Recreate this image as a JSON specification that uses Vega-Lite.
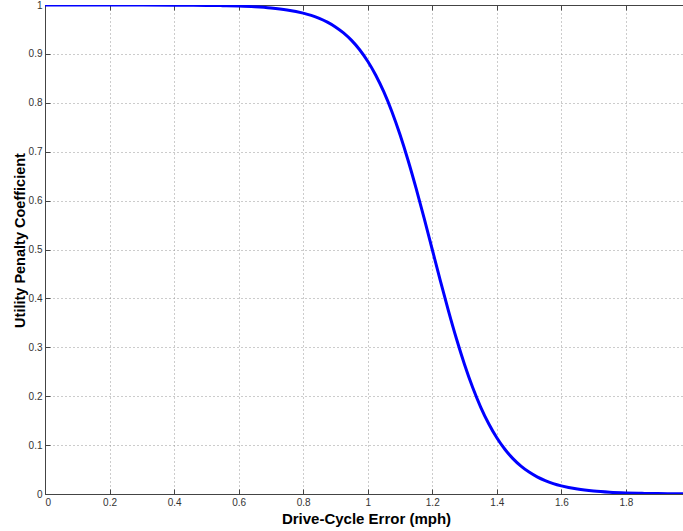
{
  "$schema": "https://vega.github.io/schema/vega-lite/v6.json",
  "autosize": {"type": "none"},
  "padding": {"left": 45, "top": 5, "right": 0, "bottom": 37},
  "width": 638,
  "height": 489,
  "background": "white",
  "config": {
    "view": {"stroke": "#444", "strokeWidth": 1},
    "axis": {
      "labelFont": "Liberation Sans",
      "labelFontSize": 10,
      "labelColor": "#333",
      "titleFont": "Liberation Sans",
      "titleFontSize": 15,
      "titleFontWeight": "bold",
      "titleColor": "#000",
      "domainColor": "#444",
      "tickColor": "#444",
      "gridColor": "#999",
      "gridDash": [1, 3],
      "gridOpacity": 1,
      "gridWidth": 1
    }
  },
  "data": {
    "values": [
      {"x": 0, "y": 1.0},
      {"x": 0.1, "y": 0.99999},
      {"x": 0.2, "y": 0.99996},
      {"x": 0.3, "y": 0.9999},
      {"x": 0.4, "y": 0.99972},
      {"x": 0.5, "y": 0.99921},
      {"x": 0.55, "y": 0.99869},
      {"x": 0.6, "y": 0.99781},
      {"x": 0.65, "y": 0.99635},
      {"x": 0.7, "y": 0.99396},
      {"x": 0.75, "y": 0.98997},
      {"x": 0.8, "y": 0.98341},
      {"x": 0.825, "y": 0.97869},
      {"x": 0.85, "y": 0.97266},
      {"x": 0.875, "y": 0.96498},
      {"x": 0.9, "y": 0.95525},
      {"x": 0.925, "y": 0.943},
      {"x": 0.95, "y": 0.92763},
      {"x": 0.975, "y": 0.90853},
      {"x": 1.0, "y": 0.88504},
      {"x": 1.025, "y": 0.85643},
      {"x": 1.05, "y": 0.82214},
      {"x": 1.075, "y": 0.78176},
      {"x": 1.1, "y": 0.73506},
      {"x": 1.125, "y": 0.6825},
      {"x": 1.15, "y": 0.62485},
      {"x": 1.175, "y": 0.56344},
      {"x": 1.2, "y": 0.5},
      {"x": 1.225, "y": 0.43656},
      {"x": 1.25, "y": 0.37515},
      {"x": 1.275, "y": 0.3175},
      {"x": 1.3, "y": 0.26494},
      {"x": 1.325, "y": 0.21824},
      {"x": 1.35, "y": 0.17786},
      {"x": 1.375, "y": 0.14357},
      {"x": 1.4, "y": 0.11496},
      {"x": 1.425, "y": 0.09147},
      {"x": 1.45, "y": 0.07237},
      {"x": 1.475, "y": 0.057},
      {"x": 1.5, "y": 0.04475},
      {"x": 1.525, "y": 0.03502},
      {"x": 1.55, "y": 0.02734},
      {"x": 1.575, "y": 0.02131},
      {"x": 1.6, "y": 0.01659},
      {"x": 1.65, "y": 0.01003},
      {"x": 1.7, "y": 0.00604},
      {"x": 1.75, "y": 0.00365},
      {"x": 1.8, "y": 0.00219},
      {"x": 1.85, "y": 0.00131},
      {"x": 1.9, "y": 0.00079},
      {"x": 1.95, "y": 0.00047},
      {"x": 1.977, "y": 0.00036}
    ]
  },
  "resolve": {"axis": {"x": "independent"}},
  "layer": [
    {
      "mark": {"type": "line", "color": "#0000FF", "strokeWidth": 3, "interpolate": "monotone", "clip": true},
      "encoding": {
        "x": {
          "field": "x", "type": "quantitative",
          "scale": {"domain": [0, 1.977], "nice": false, "zero": false},
          "axis": {
            "orient": "bottom",
            "values": [0, 0.2, 0.4, 0.6, 0.8, 1, 1.2, 1.4, 1.6, 1.8],
            "format": "~g",
            "grid": true,
            "tickSize": -5,
            "labelPadding": 8,
            "title": "Drive-Cycle Error (mph)",
            "titlePadding": 4,
            "titleX": 321
          }
        },
        "y": {
          "field": "y", "type": "quantitative",
          "scale": {"domain": [0, 1], "nice": false},
          "axis": {
            "values": [0, 0.1, 0.2, 0.3, 0.4, 0.5, 0.6, 0.7, 0.8, 0.9, 1],
            "format": "~g",
            "grid": true,
            "tickSize": -5,
            "labelPadding": 8,
            "title": "Utility Penalty Coefficient",
            "titleFontSize": 14.5,
            "titleY": 235,
            "titlePadding": 1
          }
        }
      }
    },
    {
      "mark": {"type": "line", "opacity": 0},
      "encoding": {
        "x": {
          "field": "x", "type": "quantitative",
          "axis": {
            "orient": "top",
            "values": [0, 0.2, 0.4, 0.6, 0.8, 1, 1.2, 1.4, 1.6, 1.8],
            "labels": false,
            "grid": false,
            "tickSize": -5,
            "title": null
          }
        },
        "y": {"field": "y", "type": "quantitative"}
      }
    }
  ]
}
